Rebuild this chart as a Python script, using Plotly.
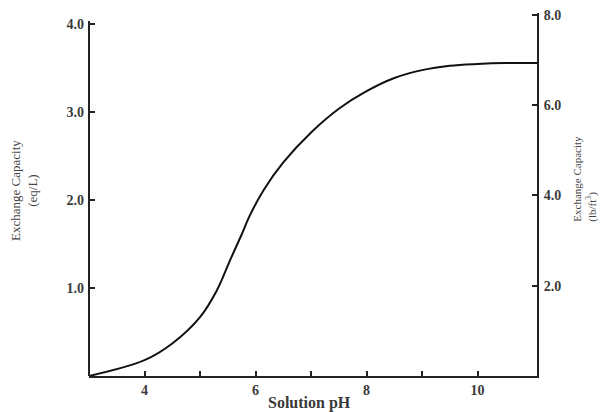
import plotly.graph_objects as go

# Data
ph = [3.0, 4.0, 4.5, 5.0, 5.3, 5.55, 5.75, 5.9, 6.15, 6.5, 7.0, 7.5, 8.0, 8.5, 9.0, 9.5, 10.0, 10.5, 11.07]
capacity_eq_per_L = [0.0, 0.18, 0.37, 0.67, 0.97, 1.33, 1.61, 1.83, 2.12, 2.43, 2.77, 3.04, 3.24, 3.39, 3.48, 3.53, 3.55, 3.56, 3.56]

x_tick_vals = [4, 6, 8, 10]
x_tick_text = ["<b>4</b>", "<b>6</b>", "<b>8</b>", "<b>10</b>"]
x_minor_tick_vals = [5, 7, 9]
left_tick_vals = [1.0, 2.0, 3.0, 4.0]
left_tick_text = ["<b>1.0</b>", "<b>2.0</b>", "<b>3.0</b>", "<b>4.0</b>"]
right_tick_vals = [2.0, 4.0, 6.0, 8.0]
right_tick_text = ["<b>2.0</b>", "<b>4.0</b>", "<b>6.0</b>", "<b>8.0</b>"]

SERIF = "Liberation Serif"
INK = "#222222"
TXT = "#3a3a3a"

fig = go.Figure()
fig.add_trace(go.Scatter(
    x=ph, y=capacity_eq_per_L, mode="lines",
    line=dict(color="#111111", width=2, shape="spline", smoothing=1.0),
    showlegend=False, hoverinfo="skip",
))
# invisible trace to activate the right axis
fig.add_trace(go.Scatter(x=[None], y=[None], yaxis="y2", showlegend=False, hoverinfo="skip"))

fig.update_layout(
    width=611, height=412,
    margin=dict(l=89, r=74, t=13, b=36, autoexpand=False),
    paper_bgcolor="white", plot_bgcolor="white",
    font=dict(family=SERIF, color=INK),
    xaxis=dict(
        range=[3.0, 11.07], tickvals=x_tick_vals, ticktext=x_tick_text,
        ticks="inside", ticklen=5, tickwidth=1.5, tickcolor=INK,
        minor=dict(tickvals=x_minor_tick_vals, ticks="inside", ticklen=5,
                   tickwidth=1.5, tickcolor=INK, showgrid=False),
        showline=True, linecolor=INK, linewidth=2,
        showgrid=False, zeroline=False, automargin=False,
        tickfont=dict(family=SERIF, size=14, color=TXT),
    ),
    yaxis=dict(
        range=[0, 4.13], tickvals=left_tick_vals, ticktext=left_tick_text,
        ticks="inside", ticklen=6, tickwidth=1.5, tickcolor=INK,
        ticklabelstandoff=4,
        showline=False, showgrid=False, zeroline=False, automargin=False,
        tickfont=dict(family=SERIF, size=14, color=TXT),
    ),
    yaxis2=dict(
        range=[0, 8.04], tickvals=right_tick_vals, ticktext=right_tick_text,
        overlaying="y", side="right",
        ticks="inside", ticklen=5, tickwidth=1.5, tickcolor=INK,
        ticklabelstandoff=2,
        showline=True, linecolor=INK, linewidth=2,
        showgrid=False, zeroline=False, automargin=False,
        tickfont=dict(family=SERIF, size=14, color=TXT),
    ),
    shapes=[dict(type="line", xref="paper", yref="y", x0=0, x1=0, y0=0, y1=4.04,
                 line=dict(color=INK, width=2))],
    annotations=[
        dict(text="<b>Solution pH</b>", xref="paper", yref="paper", x=0.492, y=-0.074,
             xanchor="center", yanchor="middle", showarrow=False,
             font=dict(family=SERIF, size=16, color=TXT)),
        dict(text="Exchange Capacity<br>(eq/L)", xref="paper", yref="paper",
             x=-0.145, y=0.51, xanchor="center", yanchor="middle", textangle=-90,
             showarrow=False, font=dict(family=SERIF, size=13, color="#444444")),
        dict(text="Exchange Capacity<br>(lb/ft<sup>3</sup>)", xref="paper", yref="paper",
             x=1.106, y=0.545, xanchor="center", yanchor="middle", textangle=-90,
             align="left", showarrow=False,
             font=dict(family=SERIF, size=11, color="#444444")),
    ],
)

fig.write_html(
    "out.html",
    config={"displayModeBar": False},
    post_script="document.body.style.margin='0px';document.body.style.padding='0px';",
)
